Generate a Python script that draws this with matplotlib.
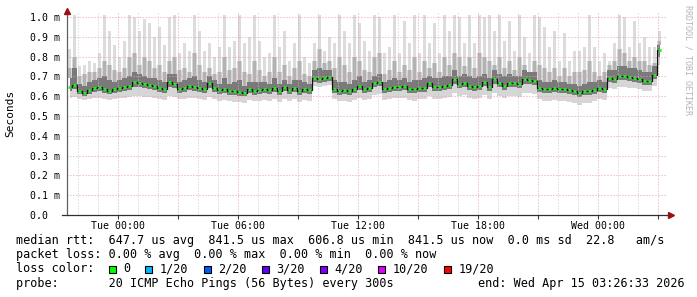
import numpy as np
import matplotlib
matplotlib.use("Agg")
import matplotlib.pyplot as plt
import matplotlib.dates as mdates
from matplotlib.patches import Rectangle
from datetime import datetime

# ---------------- data (values in ms, 15-minute bins) ----------------
start_time = datetime(2026, 4, 13, 21, 26, 33)
end_time = datetime(2026, 4, 15, 3, 26, 33)
step_minutes = 15

median = [
    0.645, 0.655, 0.625, 0.615, 0.630, 0.640, 0.645, 0.635, 0.625, 0.635,
    0.640, 0.645, 0.650, 0.670, 0.665, 0.660, 0.655, 0.650, 0.640, 0.635,
    0.670, 0.660, 0.635, 0.640, 0.650, 0.645, 0.640, 0.635, 0.665, 0.640,
    0.630, 0.635, 0.625, 0.625, 0.620, 0.615, 0.635, 0.625, 0.630, 0.635,
    0.630, 0.640, 0.625, 0.645, 0.630, 0.640, 0.625, 0.635, 0.630, 0.690,
    0.685, 0.690, 0.695, 0.635, 0.625, 0.630, 0.625, 0.635, 0.650, 0.635,
    0.640, 0.665, 0.670, 0.635, 0.640, 0.645, 0.645, 0.650, 0.635, 0.635,
    0.640, 0.640, 0.665, 0.645, 0.645, 0.650, 0.655, 0.685, 0.660, 0.665,
    0.650, 0.645, 0.650, 0.670, 0.645, 0.685, 0.665, 0.650, 0.665, 0.665,
    0.660, 0.685, 0.680, 0.675, 0.640, 0.635, 0.635, 0.640, 0.635, 0.635,
    0.630, 0.625, 0.615, 0.625, 0.625, 0.630, 0.640, 0.635, 0.690, 0.685,
    0.700, 0.700, 0.695, 0.690, 0.685, 0.675, 0.675, 0.705, 0.835,
]

smoke_max = [
    0.84, 1.01, 0.75, 0.76, 0.78, 0.77, 0.82, 1.01, 0.93, 0.86,
    0.80, 0.88, 1.01, 1.00, 0.93, 0.99, 0.97, 0.90, 0.95, 0.86,
    1.00, 1.01, 0.82, 0.87, 0.83, 1.01, 0.93, 0.83, 0.87, 0.80,
    0.85, 1.01, 0.85, 0.88, 1.01, 0.87, 0.90, 1.01, 0.88, 0.80,
    0.82, 1.01, 0.85, 0.93, 0.78, 0.87, 1.01, 0.80, 0.77, 0.87,
    1.01, 0.83, 0.90, 0.87, 1.01, 0.93, 0.87, 1.01, 0.97, 0.88,
    0.83, 1.01, 1.00, 0.82, 0.85, 1.01, 0.82, 0.98, 0.87, 1.01,
    0.82, 1.01, 0.87, 0.97, 0.82, 1.01, 0.93, 1.01, 1.00, 0.87,
    1.01, 0.87, 1.01, 1.00, 1.01, 0.93, 1.01, 0.88, 0.98, 0.83,
    1.01, 0.90, 0.82, 1.01, 1.00, 0.95, 0.85, 0.93, 0.78, 0.92,
    0.78, 0.83, 0.83, 0.85, 1.01, 0.85, 0.78, 0.82, 0.78, 0.87,
    1.01, 1.00, 0.85, 0.98, 0.87, 0.90, 0.85, 0.85, 0.93,
]

smoke_upper = [
    0.74, 0.80, 0.70, 0.71, 0.72, 0.72, 0.74, 0.78, 0.76, 0.73,
    0.72, 0.74, 0.80, 0.82, 0.76, 0.80, 0.78, 0.74, 0.76, 0.72,
    0.78, 0.80, 0.73, 0.74, 0.72, 0.82, 0.76, 0.72, 0.74, 0.71,
    0.72, 0.80, 0.73, 0.74, 0.78, 0.72, 0.71, 0.78, 0.73, 0.70,
    0.72, 0.80, 0.72, 0.76, 0.70, 0.74, 0.78, 0.71, 0.70, 0.78,
    0.84, 0.77, 0.78, 0.74, 0.80, 0.76, 0.72, 0.80, 0.78, 0.73,
    0.72, 0.80, 0.82, 0.71, 0.73, 0.78, 0.72, 0.76, 0.73, 0.80,
    0.72, 0.78, 0.74, 0.77, 0.72, 0.80, 0.76, 0.82, 0.80, 0.75,
    0.80, 0.74, 0.82, 0.80, 0.78, 0.76, 0.80, 0.74, 0.78, 0.73,
    0.80, 0.76, 0.72, 0.78, 0.76, 0.74, 0.72, 0.74, 0.70, 0.74,
    0.70, 0.72, 0.72, 0.73, 0.78, 0.72, 0.70, 0.72, 0.76, 0.78,
    0.84, 0.82, 0.78, 0.80, 0.78, 0.78, 0.76, 0.77, 0.88,
]

smoke_core_hi = [
    0.69, 0.74, 0.66, 0.65, 0.67, 0.68, 0.69, 0.70, 0.68, 0.67,
    0.68, 0.69, 0.70, 0.72, 0.71, 0.70, 0.69, 0.69, 0.68, 0.67,
    0.71, 0.71, 0.67, 0.68, 0.69, 0.70, 0.68, 0.67, 0.70, 0.68,
    0.66, 0.69, 0.66, 0.67, 0.68, 0.65, 0.67, 0.67, 0.67, 0.67,
    0.66, 0.69, 0.66, 0.68, 0.66, 0.68, 0.68, 0.67, 0.66, 0.73,
    0.74, 0.73, 0.73, 0.68, 0.67, 0.67, 0.66, 0.68, 0.70, 0.67,
    0.68, 0.70, 0.71, 0.67, 0.68, 0.69, 0.68, 0.69, 0.67, 0.68,
    0.68, 0.69, 0.70, 0.69, 0.69, 0.70, 0.70, 0.73, 0.70, 0.71,
    0.70, 0.69, 0.70, 0.71, 0.69, 0.73, 0.71, 0.70, 0.71, 0.70,
    0.70, 0.73, 0.72, 0.72, 0.68, 0.67, 0.67, 0.68, 0.67, 0.67,
    0.66, 0.66, 0.65, 0.66, 0.67, 0.67, 0.68, 0.67, 0.73, 0.73,
    0.75, 0.75, 0.74, 0.74, 0.73, 0.72, 0.72, 0.75, 0.86,
]

smoke_core_lo = [
    0.625, 0.635, 0.610, 0.600, 0.612, 0.622, 0.625, 0.618, 0.610, 0.617,
    0.622, 0.625, 0.630, 0.645, 0.645, 0.640, 0.635, 0.630, 0.622, 0.618,
    0.645, 0.640, 0.618, 0.622, 0.630, 0.628, 0.622, 0.618, 0.640, 0.622,
    0.612, 0.618, 0.608, 0.608, 0.602, 0.600, 0.617, 0.608, 0.612, 0.617,
    0.612, 0.620, 0.608, 0.625, 0.612, 0.622, 0.608, 0.617, 0.612, 0.670,
    0.668, 0.672, 0.675, 0.617, 0.608, 0.612, 0.608, 0.617, 0.630, 0.617,
    0.622, 0.645, 0.650, 0.617, 0.622, 0.627, 0.627, 0.630, 0.617, 0.617,
    0.622, 0.622, 0.645, 0.627, 0.627, 0.632, 0.635, 0.660, 0.640, 0.645,
    0.632, 0.627, 0.632, 0.650, 0.627, 0.660, 0.645, 0.632, 0.645, 0.645,
    0.640, 0.660, 0.660, 0.655, 0.622, 0.617, 0.617, 0.622, 0.617, 0.617,
    0.612, 0.607, 0.597, 0.607, 0.607, 0.612, 0.622, 0.617, 0.670, 0.667,
    0.680, 0.680, 0.675, 0.670, 0.667, 0.657, 0.657, 0.685, 0.800,
]

smoke_min = [
    0.590, 0.595, 0.585, 0.580, 0.585, 0.590, 0.592, 0.588, 0.582, 0.588,
    0.590, 0.592, 0.595, 0.600, 0.600, 0.598, 0.595, 0.590, 0.585, 0.582,
    0.600, 0.598, 0.585, 0.588, 0.592, 0.590, 0.586, 0.582, 0.596, 0.585,
    0.578, 0.582, 0.575, 0.572, 0.570, 0.568, 0.580, 0.575, 0.578, 0.582,
    0.578, 0.585, 0.572, 0.588, 0.576, 0.586, 0.572, 0.580, 0.578, 0.650,
    0.648, 0.650, 0.655, 0.585, 0.575, 0.578, 0.572, 0.580, 0.592, 0.580,
    0.585, 0.605, 0.610, 0.580, 0.585, 0.590, 0.590, 0.592, 0.580, 0.578,
    0.585, 0.585, 0.600, 0.588, 0.588, 0.592, 0.596, 0.615, 0.600, 0.605,
    0.592, 0.588, 0.592, 0.608, 0.588, 0.615, 0.602, 0.592, 0.602, 0.602,
    0.598, 0.615, 0.615, 0.612, 0.585, 0.578, 0.578, 0.582, 0.578, 0.578,
    0.572, 0.568, 0.558, 0.568, 0.568, 0.575, 0.585, 0.580, 0.640, 0.636,
    0.648, 0.648, 0.642, 0.640, 0.636, 0.628, 0.628, 0.652, 0.760,
]

y_ticks = [0.0, 0.1, 0.2, 0.3, 0.4, 0.5, 0.6, 0.7, 0.8, 0.9, 1.0]
y_tick_labels = ["0.0  ", "0.1 m", "0.2 m", "0.3 m", "0.4 m", "0.5 m",
                 "0.6 m", "0.7 m", "0.8 m", "0.9 m", "1.0 m"]
x_tick_times = ["2026-04-14 00:00", "2026-04-14 06:00", "2026-04-14 12:00",
                "2026-04-14 18:00", "2026-04-15 00:00"]
x_tick_labels = ["Tue 00:00", "Tue 06:00", "Tue 12:00", "Tue 18:00", "Wed 00:00"]

legend_rtt = "median rtt:  647.7 us avg  841.5 us max  606.8 us min  841.5 us now  0.0 ms sd  22.8   am/s"
legend_loss = "packet loss: 0.00 % avg  0.00 % max  0.00 % min  0.00 % now"
loss_labels = ["0", "1/20", "2/20", "3/20", "4/20", "10/20", "19/20"]
loss_colors = ["#00ff00", "#00b8ff", "#0059ff", "#5e00ff", "#7e00ff", "#dd00ff", "#ff0000"]
probe_text = "probe:       20 ICMP Echo Pings (56 Bytes) every 300s"
end_text = "end: Wed Apr 15 03:26:33 2026"
side_text = "RRDTOOL / TOBI OETIKER"

# ---------------- figure ----------------
W, H = 697, 297
fig = plt.figure(figsize=(W / 100, H / 100), dpi=100)
fig.patch.set_facecolor("white")

AX_L, AX_R, AX_T, AX_B = 67, 667, 13, 215
ax = fig.add_axes([AX_L / W, (H - AX_B) / H, (AX_R - AX_L) / W, (AX_B - AX_T) / H])
ax.set_facecolor("white")

n = len(median)
t0 = mdates.date2num(start_time)
t1 = mdates.date2num(end_time)
dt = step_minutes / (24 * 60)
x = t0 + (np.arange(n) + 0.5) * dt

med = np.array(median)
s_max = np.array(smoke_max)
s_up = np.array(smoke_upper)
s_chi = np.array(smoke_core_hi)

# smoke: thin light spikes up to the max, light body, mid-gray streaks, dark core
ax.bar(x, s_max - s_up, bottom=s_up, width=0.5 * dt, color="#dcdcdc", lw=0, zorder=1)
ax.fill_between(x, smoke_min, smoke_upper, step="mid", color="#d6d6d6", lw=0, zorder=1.1)
ax.bar(x, s_up - s_chi, bottom=s_chi, width=0.55 * dt, color="#b2b2b2", lw=0, zorder=1.15)
ax.fill_between(x, smoke_core_lo, smoke_core_hi, step="mid", color="#7a7a7a", lw=0, zorder=1.2)

ax.set_xlim(t0, t1)
ymax = (AX_B - AX_T) / 198.0
ax.set_ylim(0, ymax)

# grid (drawn above smoke like rrdtool)
hour = 1 / 24
first_hour = np.ceil(t0 / hour) * hour
hours = np.arange(first_hour, t1, hour)
for h in hours:
    hh = int(round(h / hour)) % 24
    col = "#e3a3a3" if hh % 3 == 0 else "#c8c8c8"
    ax.axvline(h, color=col, lw=0.72, ls=(0, (1, 2)), zorder=2.5)
for yv in y_ticks[1:]:
    ax.axhline(yv, color="#e3a3a3", lw=0.72, ls=(0, (1, 2)), zorder=2.5)

# median: black connectors + green dashes
ax.step(x, med, where="mid", color="#111111", lw=0.9, zorder=3)
half = 0.35 * dt
ax.hlines(med, x - half, x + half, color="#22ee22", lw=2.0, zorder=4)

# axes styling
for s in ax.spines.values():
    s.set_visible(False)
ax.plot([0, 0], [0, (AX_B - 10) / (AX_B - AX_T)], transform=ax.transAxes,
        color="#606060", lw=0.9, clip_on=False, zorder=5)
ax.plot([(62 - AX_L) / (AX_R - AX_L), (670 - AX_L) / (AX_R - AX_L)], [0, 0],
        transform=ax.transAxes, color="#303030", lw=0.9, clip_on=False, zorder=5)
ax.plot([0], [(AX_B - 11) / (AX_B - AX_T)], transform=ax.transAxes, marker="^",
        ms=4.2, color="#9a1010", clip_on=False, zorder=6)
ax.plot([(671 - AX_L) / (AX_R - AX_L)], [0], transform=ax.transAxes, marker=">",
        ms=4.2, color="#9a1010", clip_on=False, zorder=6)

mono = "DejaVu Sans Mono"
ax.set_yticks(y_ticks)
ax.set_yticklabels(y_tick_labels, fontfamily=mono, fontsize=7.1)
ax.tick_params(axis="y", length=0, pad=5.0)

major_x = [mdates.date2num(datetime.strptime(s, "%Y-%m-%d %H:%M")) for s in x_tick_times]
ax.set_xticks(major_x)
ax.set_xticklabels(x_tick_labels, fontfamily=mono, fontsize=7.1)
three_h = [h for h in hours if int(round(h / hour)) % 3 == 0]
ax.set_xticks(three_h, minor=True)
ax.tick_params(axis="x", which="both", length=3, width=0.8, color="#404040", pad=1.5)

fig.text(10 / W, 1 - 113 / H, "Seconds", rotation=90, ha="center", va="center",
         fontfamily=mono, fontsize=8.0)
fig.text(688 / W, 1 - 60 / H, side_text, rotation=270, ha="center", va="center",
         fontfamily=mono, fontsize=6.0, color="#b4b4b4")

# legend text
FS = 8.5
cw = FS / 72 * 100 * 0.6021
base_y = [244, 258.2, 272.4, 286.6]
fig.text(16 / W, 1 - base_y[0] / H, legend_rtt, fontfamily=mono, fontsize=FS, va="baseline")
fig.text(16 / W, 1 - base_y[1] / H, legend_loss, fontfamily=mono, fontsize=FS, va="baseline")
fig.text(16 / W, 1 - base_y[2] / H, "loss color:", fontfamily=mono, fontsize=FS, va="baseline")
fig.text(16 / W, 1 - base_y[3] / H, probe_text, fontfamily=mono, fontsize=FS, va="baseline")
fig.text((16 + 65 * cw) / W, 1 - base_y[3] / H, end_text, fontfamily=mono, fontsize=FS, va="baseline")

sx = 108.5
sq = 7
for lab, col in zip(loss_labels, loss_colors):
    fig.patches.append(Rectangle((sx / W, 1 - (base_y[2] + 1) / H), sq / W, sq / H,
                                 transform=fig.transFigure, facecolor=col,
                                 edgecolor="black", lw=0.8))
    lx = sx + 14.7
    fig.text(lx / W, 1 - base_y[2] / H, lab, fontfamily=mono, fontsize=FS, va="baseline")
    sx = lx + len(lab) * cw + 15.1

fig.savefig("out.png", dpi=100, facecolor="white")
